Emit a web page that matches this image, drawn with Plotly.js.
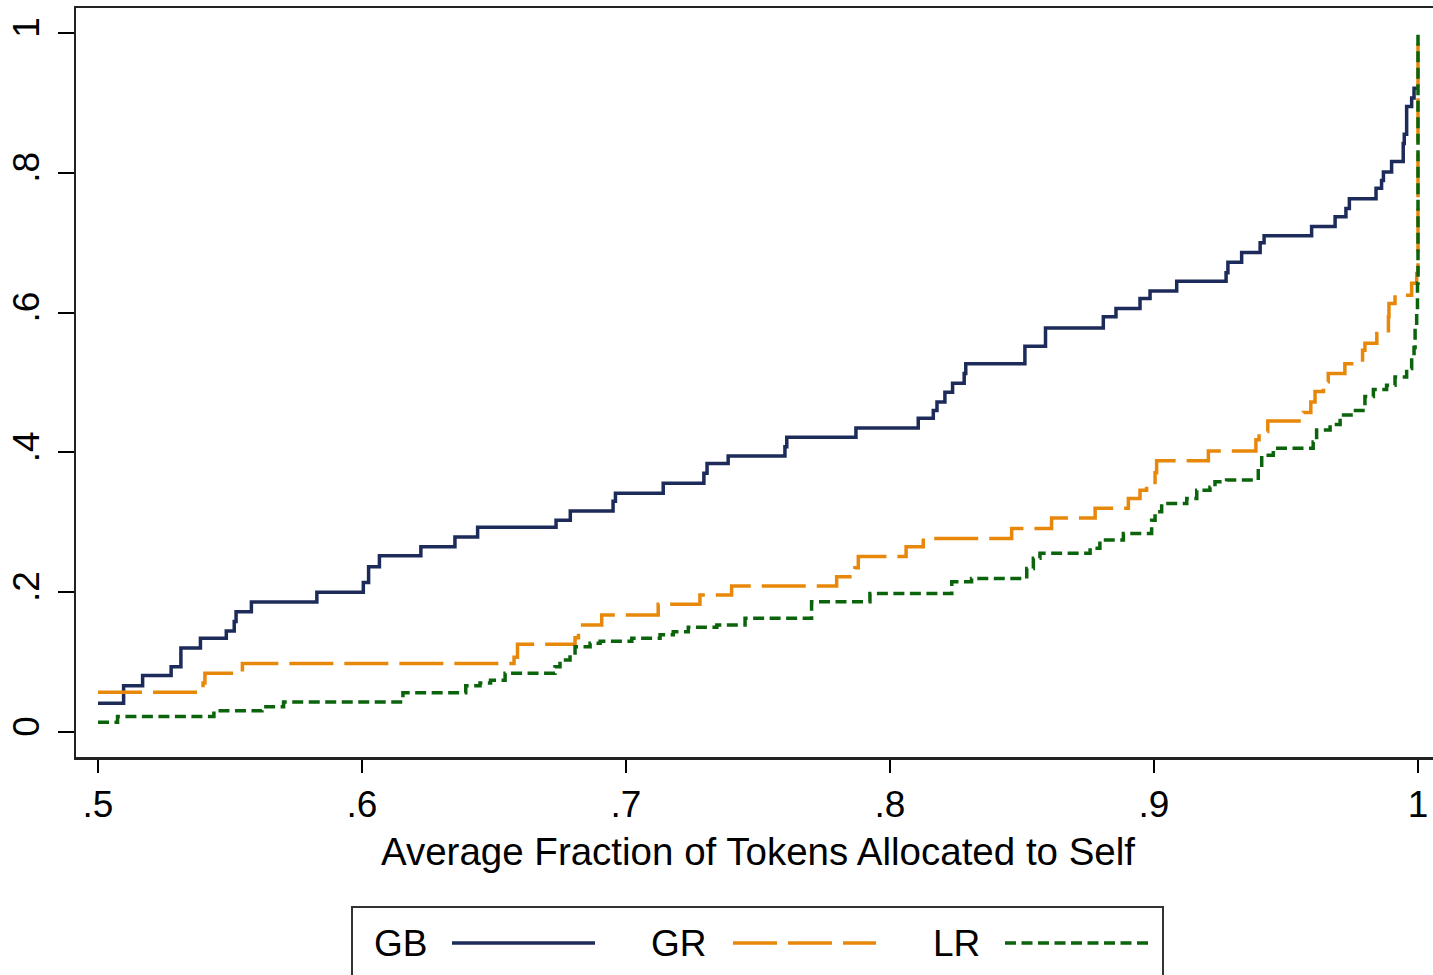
<!DOCTYPE html>
<html>
<head>
<meta charset="utf-8">
<script src="https://cdn.plot.ly/plotly-3.0.1.min.js"></script>
<style>
  html, body { margin: 0; padding: 0; background: #fff; overflow: hidden; }
  #chart { width: 1450px; height: 975px; }
</style>
</head>
<body>
<div id="chart"></div>
<script>
// cumulative share of subjects, by treatment (step functions)
var seriesNames = ['GB', 'GR', 'LR'];

var gbX = [.5, .5097, .5169, .5277, .5314, .5388, .5486, .5516, .5523, .5581, .5829, .6005, .6025, .6066,
  .6223, .6352, .6438, .6735, .6789, .6951, .6960, .7141, .7295, .7307, .7387, .7602, .7609, .7871,
  .8107, .8164, .8178, .8208, .8237, .8281, .8287, .8511, .8589, .8808, .8856, .8947, .8985, .9086,
  .9273, .9280, .9332, .9402, .9417, .9597, .9686, .9727, .9740, .9841, .9862, .9869, .9900, .9944,
  .9948, .9957, .9976, .9985, 1.0];
var gbY = [.041, .066, .081, .0935, .12, .134, .1445, .158, .172, .186, .200, .214, .2365, .252,
  .265, .279, .293, .303, .316, .33, .3415, .356, .37, .384, .395, .408, .4215, .435,
  .449, .46, .472, .486, .499, .513, .527, .552, .578, .594, .606, .620, .631, .645,
  .657, .672, .686, .70, .71, .723, .737, .749, .763, .778, .789, .801, .816, .842,
  .855, .895, .907, .921, .921];

var grX = [.5, .5398, .5405, .5547, .6576, .6589, .6807, .6820, .6908, .7122, .7280, .7400, .7798,
  .7867, .7880, .8061, .8126, .8461, .8612, .8777, .8903, .8947, .8972, .9004, .9010, .9206, .9386,
  .9398, .9431, .9566, .9594, .9610, .9642, .9660, .9723, .9790, .9799, .9844, .9888, .9890, .9913,
  .9976, .9995, 1.0];
var grY = [.057, .07, .084, .098, .107, .1254, .135, .153, .1674, .1826, .196, .209, .222,
  .235, .251, .265, .277, .291, .306, .32, .334, .346, .357, .371, .388, .402, .418,
  .43, .445, .457, .472, .487, .501, .513, .527, .546, .556, .570, .594, .613, .625,
  .642, .656, 1.0];

var lrX = [.5, .5074, .5439, .5621, .5703, .6155, .6393, .6447, .6487, .6542, .6731, .6750, .6788,
  .6807, .6864, .6902, .7022, .7129, .7179, .7236, .7344, .7451, .7703, .7924, .8234, .8309, .8518,
  .8543, .8568, .8758, .8795, .8884, .8991, .9004, .9029, .9124, .9162, .9212, .9231, .9275, .9395,
  .9408, .9452, .9603, .9616, .9667, .9705, .9755, .9799, .9831, .9881, .9913, .9957, .9976, .9985,
  .9989, .9995, .9998, 1.0];
var lrY = [.014, .022, .0305, .036, .043, .056, .066, .07, .074, .084, .0935, .103, .11,
  .122, .127, .13, .134, .139, .1435, .15, .153, .1626, .1864, .198, .215, .2196, .234,
  .2485, .2556, .263, .2747, .284, .303, .315, .327, .334, .346, .35, .358, .3605, .377,
  .396, .406, .415, .432, .44, .4535, .46, .48, .49, .496, .508, .52, .535, .55,
  .58, .60, .642, 1.0];

var xTickVals = [.5, .6, .7, .8, .9, 1];
var xTickText = ['.5', '.6', '.7', '.8', '.9', '1'];
var yTickVals = [0, .2, .4, .6, .8, 1];
var yTickText = ['0', '.2', '.4', '.6', '.8', '1'];

var colors = ['#1c2b5a', '#e8880a', '#0b640b'];
var dashes = ['solid', '44px,11px', '11px,5.5px'];
var font = 'Liberation Sans, Arial, sans-serif';

var xs = [gbX, grX, lrX];
var ys = [gbY, grY, lrY];
var data = [];
for (var i = 0; i < seriesNames.length; i++) {
  data.push({
    type: 'scatter',
    mode: 'lines',
    name: seriesNames[i],
    x: xs[i],
    y: ys[i],
    line: {shape: 'hv', color: colors[i], width: 3.5, dash: dashes[i]},
    showlegend: false,
    hoverinfo: 'skip'
  });
}

// plot area in pixels: left 76, right 1440, top 8, bottom 757
var L = 76, R = 1440, T = 8, B = 757;
function px(v) { return (v - L) / (R - L); }
function py(v) { return (B - v) / (B - T); }

// hand made legend box: label first, then line sample
var shapes = [{
  type: 'rect', xref: 'paper', yref: 'paper',
  x0: px(352), x1: px(1163), y0: py(1000), y1: py(907),
  line: {color: '#333', width: 2}, fillcolor: 'rgba(0,0,0,0)'
}];
var annotations = [];
var labelLeft = [372, 649, 931];
var sampleLeft = [452, 733, 1005];
for (var k = 0; k < seriesNames.length; k++) {
  annotations.push({
    xref: 'paper', yref: 'paper', x: px(labelLeft[k]), y: py(944),
    xanchor: 'left', yanchor: 'middle', showarrow: false,
    text: seriesNames[k], font: {family: font, size: 37, color: '#000'}
  });
  shapes.push({
    type: 'line', xref: 'paper', yref: 'paper',
    x0: px(sampleLeft[k]), x1: px(sampleLeft[k] + 143), y0: py(943), y1: py(943),
    line: {color: colors[k], width: 3.5, dash: dashes[k]}
  });
}

var layout = {
  width: 1450,
  height: 975,
  margin: {l: L, r: 1450 - R, t: T, b: 975 - B},
  paper_bgcolor: '#fff',
  plot_bgcolor: '#fff',
  font: {family: font, size: 37, color: '#000'},
  xaxis: {
    range: [0.5 - 22 / 2640, 1 + 22 / 2640],
    tickvals: xTickVals, ticktext: xTickText,
    ticks: 'outside', ticklen: 13, tickwidth: 2, tickcolor: '#000',
    showgrid: false, zeroline: false,
    showline: true, mirror: true, linecolor: '#222', linewidth: 2.5,
    tickfont: {size: 37},
    title: {text: 'Average Fraction of Tokens Allocated to Self', font: {size: 38.5}, standoff: 14}
  },
  yaxis: {
    range: [-25 / 699, 1 + 25 / 699],
    tickvals: yTickVals, ticktext: yTickText,
    tickangle: -90,
    ticks: 'outside', ticklen: 16, tickwidth: 2, tickcolor: '#000',
    ticklabelstandoff: 4,
    showgrid: false, zeroline: false,
    showline: true, mirror: true, linecolor: '#222', linewidth: 2.5,
    tickfont: {size: 37}
  },
  shapes: shapes,
  annotations: annotations
};

Plotly.newPlot('chart', data, layout, {staticPlot: true, displayModeBar: false});
</script>
</body>
</html>
